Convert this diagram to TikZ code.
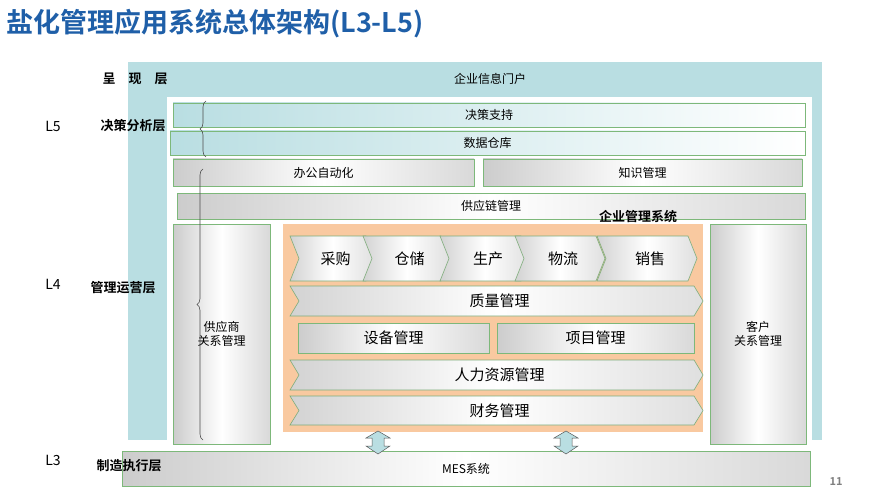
\documentclass[tikz,border=0pt]{standalone}
\usepackage{fontspec}
\setmainfont{Noto Sans CJK SC}[BoldFont={Noto Sans CJK SC Bold}]
\usetikzlibrary{decorations.pathreplacing}
\definecolor{teal1}{HTML}{B9DEE2}
\definecolor{grn}{HTML}{7DB87A}
\definecolor{orng}{HTML}{F9C9A0}
\definecolor{ttl}{HTML}{1F5FA8}
\tikzset{
  gbox/.style={draw=grn,line width=0.8pt,left color=gray!40,right color=gray!30,middle color=white,inner sep=0pt},
  tbox/.style={draw=grn,line width=0.8pt,left color=teal1,right color=white,inner sep=0pt},
  lbl/.style={font=\fontsize{13}{15}\selectfont\bfseries},
  txt/.style={font=\fontsize{12}{14}\selectfont},
  btxt/.style={font=\fontsize{15}{17}\selectfont},
  chev/.style={draw=grn!80!gray,line width=0.6pt,left color=gray!35,right color=gray!25,middle color=white},
  dbl/.style={draw=gray!70!black,fill=teal1,line width=0.5pt},
  brc/.style={decorate,decoration={brace,amplitude=6pt},draw=black!70,line width=0.6pt}
}
\newcommand{\chevron}[6]{% name x1 y1 x2 y2 text
  \path[chev] (#2,#3) -- (#4-9,#3) -- (#4,{(#3+#5)/2}) -- (#4-9,#5) -- (#2,#5) -- (#2+9,{(#3+#5)/2}) -- cycle;
  \node[btxt] (#1) at ({(#2+#4)/2+3},{(#3+#5)/2}) {#6};}
\begin{document}
\begin{tikzpicture}[x=1pt,y=-1pt]
\useasboundingbox (0,0) rectangle (889,500);
\node[anchor=west,text=ttl,font=\fontsize{27}{31}\selectfont\bfseries,inner sep=0pt] (title) at (6,24) {盐化管理应用系统总体架构(L3-L5)};
\fill[teal1] (128,62) rectangle (822,440);
\fill[white] (167,97) rectangle (812,440);
\node[txt] (portal) at (490,79) {企业信息门户};
\node[tbox,minimum width=632,minimum height=24,txt] (jc) at (489,115) {决策支持};
\node[tbox,minimum width=635,minimum height=24,txt] (sj) at (487.5,143) {数据仓库};
\node[gbox,minimum width=301,minimum height=27,txt] (bg) at (323.5,172.5) {办公自动化};
\node[gbox,minimum width=319,minimum height=27,txt] (zs) at (642.5,172.5) {知识管理};
\node[gbox,minimum width=628,minimum height=26,txt] (gyl) at (491,206) {供应链管理};
\node[gbox,minimum width=97,minimum height=220,txt,align=center] (gys) at (221.5,334) {供应商\\关系管理};
\node[gbox,minimum width=96,minimum height=220,txt,align=center] (kh) at (758,334) {客户\\关系管理};
\fill[orng] (283,224) rectangle (703,432);
\node[lbl] (qy) at (638,217) {企业管理系统};
\draw[brc] (206,157) -- (206,101);
\draw[brc] (203,440) -- (203,169);
\chevron{cg}{290}{236}{375}{281}{采购}
\chevron{cc}{363}{236}{450}{281}{仓储}
\chevron{sc}{440}{236}{530}{281}{生产}
\chevron{wl}{515}{236}{605}{281}{物流}
\chevron{xs}{597}{236}{697}{281}{销售}
\chevron{zl}{290}{286}{703}{316}{质量管理}
\node[gbox,minimum width=191,minimum height=30,btxt] (sb) at (393.5,338) {设备管理};
\node[gbox,minimum width=197,minimum height=30,btxt] (xm) at (595.5,338) {项目管理};
\chevron{rl}{290}{360}{703}{390}{人力资源管理}
\chevron{cw}{290}{396}{703}{425}{财务管理}
\node[gbox,minimum width=688,minimum height=35,txt] (mes) at (466,468.5) {MES系统};
\foreach \x in {378,566}{
  \path[dbl] (\x-6,438) -- (\x-6,446) -- (\x-12,446) -- (\x,454) -- (\x+12,446) -- (\x+6,446) -- (\x+6,438) -- (\x+12,438) -- (\x,431) -- (\x-12,438) -- cycle;}
\node[lbl] (l0) at (135,79) {呈\quad 现\quad 层};
\node[font=\fontsize{14}{16}\selectfont] (L5) at (53,126) {L5};
\node[lbl] (l5) at (133,126) {决策分析层};
\node[font=\fontsize{14}{16}\selectfont] (L4) at (53,284) {L4};
\node[lbl] (l4) at (123,288) {管理运营层};
\node[font=\fontsize{14}{16}\selectfont] (L3) at (53,460) {L3};
\node[lbl] (l3) at (129,466) {制造执行层};
\node[text=gray,font=\fontsize{11}{13}\selectfont\bfseries] (pg) at (836,482) {11};
\end{tikzpicture}
\end{document}
